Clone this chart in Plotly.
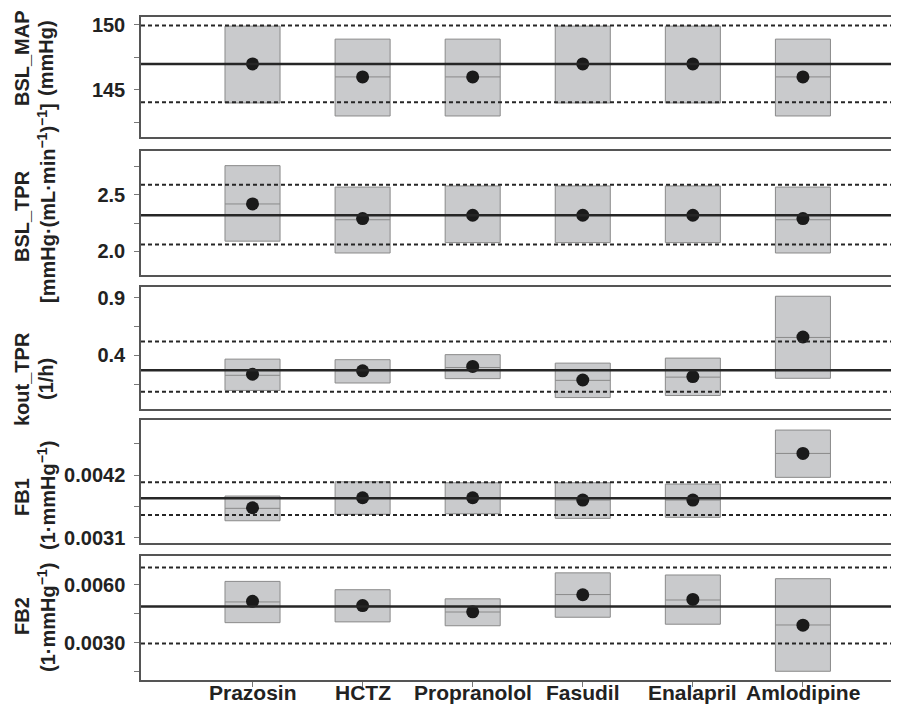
import plotly.graph_objects as go

categories = ["Prazosin", "HCTZ", "Propranolol", "Fasudil", "Enalapril", "Amlodipine"]

# Panel 1: BSL_MAP
map_ref = 147.0
map_band = [144.05, 149.95]
map_q1 = [144.0, 143.0, 143.0, 144.0, 144.0, 143.0]
map_med = [147.0, 146.0, 146.0, 147.0, 147.0, 146.0]
map_q3 = [149.9, 148.9, 148.9, 149.9, 149.9, 148.9]
map_pt = [147.0, 146.0, 146.0, 147.0, 147.0, 146.0]

# Panel 2: BSL_TPR
tpr_ref = 2.32
tpr_band = [2.06, 2.59]
tpr_q1 = [2.09, 1.985, 2.077, 2.077, 2.077, 1.985]
tpr_med = [2.42, 2.28, 2.32, 2.32, 2.32, 2.28]
tpr_q3 = [2.76, 2.57, 2.58, 2.58, 2.58, 2.57]
tpr_pt = [2.42, 2.29, 2.32, 2.32, 2.32, 2.29]

# Panel 3: kout_TPR
kout_ref = 0.270
kout_band = [0.082, 0.521]
kout_q1 = [0.094, 0.159, 0.197, 0.032, 0.050, 0.200]
kout_med = [0.226, 0.265, 0.294, 0.182, 0.210, 0.556]
kout_q3 = [0.367, 0.362, 0.406, 0.332, 0.376, 0.915]
kout_pt = [0.235, 0.265, 0.303, 0.185, 0.215, 0.560]

# Panel 4: FB1
fb1_ref = 0.003791
fb1_band = [0.003498, 0.004072]
fb1_q1 = [0.003398, 0.003511, 0.003521, 0.003440, 0.003458, 0.00416]
fb1_med = [0.003616, 0.003802, 0.003802, 0.003761, 0.003761, 0.00458]
fb1_q3 = [0.003832, 0.004082, 0.004065, 0.004065, 0.004042, 0.00499]
fb1_pt = [0.003626, 0.003802, 0.003802, 0.003761, 0.003761, 0.00458]

# Panel 5: FB2
fb2_ref = 0.00488
fb2_band = [0.00296, 0.00689]
fb2_q1 = [0.00404, 0.00408, 0.00388, 0.00432, 0.00396, 0.00153]
fb2_med = [0.00511, 0.00492, 0.00459, 0.00549, 0.00521, 0.00392]
fb2_q3 = [0.00617, 0.00574, 0.00527, 0.00661, 0.00650, 0.00631]
fb2_pt = [0.00514, 0.00492, 0.00460, 0.00548, 0.00524, 0.00391]

panels = [
    dict(ref=map_ref, band=map_band, q1=map_q1, med=map_med, q3=map_q3, pt=map_pt,
         rng=[141.35, 150.6], tick0=145, dtick=5, mdtick=2.5, fmt=".0f",
         dom=[0.8183, 1.0],
         t1=("BSL_MAP", 58), t2=("(mmHg)", 58)),
    dict(ref=tpr_ref, band=tpr_band, q1=tpr_q1, med=tpr_med, q3=tpr_q3, pt=tpr_pt,
         rng=[1.79, 2.89], tick0=2.0, dtick=0.5, mdtick=0.25, fmt=".1f",
         dom=[0.6109, 0.7979],
         t1=("BSL_TPR", 216), t2=("[mmHg·(mL·min<sup>−1</sup>)<sup>−1</sup>]", 203)),
    dict(ref=kout_ref, band=kout_band, q1=kout_q1, med=kout_med, q3=kout_q3, pt=kout_pt,
         rng=[-0.068, 1.0], tick0=0.4, dtick=0.5, mdtick=0.25, fmt=".1f",
         dom=[0.4087, 0.5935],
         t1=("kout_TPR", 379), t2=("(1/h)", 379)),
    dict(ref=fb1_ref, band=fb1_band, q1=fb1_q1, med=fb1_med, q3=fb1_q3, pt=fb1_pt,
         rng=[0.003007, 0.005165], tick0=0.0031, dtick=0.0011, mdtick=0.00055, fmt=".4f",
         dom=[0.2066, 0.392],
         t1=("FB1", 497), t2=("(1·mmHg<sup>−1</sup>)", 495)),
    dict(ref=fb2_ref, band=fb2_band, q1=fb2_q1, med=fb2_med, q3=fb2_q3, pt=fb2_pt,
         rng=[0.00108, 0.00748], tick0=0.0, dtick=0.003, mdtick=0.0015, fmt=".4f",
         dom=[0.0, 0.187],
         t1=("FB2", 616), t2=("(1·mmHg<sup>−1</sup>)", 617)),
]

FONT = "Liberation Sans, Arial, sans-serif"
OFF = 8  # page body margin
W, H = 883, 697
ML, MR, MT, MB = 133, 0, 9, 25
PW = W - ML - MR
PH = H - MT - MB
PLOT_LEFT = ML + OFF          # window px of plot left edge
PLOT_BOTTOM = OFF + MT + PH   # window px of plot bottom edge

fig = go.Figure()
layout = dict(
    width=W, height=H, margin=dict(l=ML, r=MR, t=MT, b=MB),
    paper_bgcolor="white", plot_bgcolor="white", showlegend=False,
    font=dict(family=FONT, color="#222", size=20),
)
shapes = []
annotations = []

for i, p in enumerate(panels):
    n = i + 1
    xa = "x" if n == 1 else f"x{n}"
    ya = "y" if n == 1 else f"y{n}"
    fig.add_trace(go.Box(
        x=categories, q1=p["q1"], median=p["med"], q3=p["q3"],
        lowerfence=p["q1"], upperfence=p["q3"],
        width=0.5, whiskerwidth=0, boxpoints=False,
        fillcolor="#c9cacc", line=dict(color="#8a8a8a", width=1),
        xaxis=xa, yaxis=ya, hoverinfo="skip",
    ))
    fig.add_trace(go.Scatter(
        x=categories, y=p["pt"], mode="markers",
        marker=dict(size=13, color="#1a1a1a"),
        xaxis=xa, yaxis=ya, hoverinfo="skip",
    ))
    xref_dom = f"{xa} domain"
    shapes.append(dict(type="line", xref=xref_dom, yref=ya, x0=0, x1=1,
                       y0=p["ref"], y1=p["ref"], line=dict(color="#262626", width=2.5), layer="above"))
    for b in p["band"]:
        shapes.append(dict(type="line", xref=xref_dom, yref=ya, x0=0, x1=1,
                           y0=b, y1=b, line=dict(color="#262626", width=2, dash="4px,3px"), layer="above"))
    bottom = (n == 5)
    layout[f"xaxis{'' if n == 1 else n}"] = dict(
        domain=[0, 1], anchor=ya, type="category", categoryorder="array",
        categoryarray=categories, range=[-1.013, 5.80],
        showline=True, mirror=True, linecolor="#555", linewidth=1.5,
        showgrid=False, zeroline=False,
        ticks="outside" if bottom else "", ticklen=5, tickcolor="#777",
        showticklabels=False,
        fixedrange=True,
    )
    layout[f"yaxis{'' if n == 1 else n}"] = dict(
        domain=p["dom"], anchor=xa, range=p["rng"],
        showline=True, mirror=False, linecolor="#555", linewidth=1.5,
        showgrid=False, zeroline=False,
        tickmode="linear", tick0=p["tick0"], dtick=p["dtick"], tickformat=p["fmt"],
        ticks="outside", ticklen=5, tickcolor="#777", ticklabelstandoff=5,
        minor=dict(ticks="outside", ticklen=5, tickcolor="#777", tickmode="linear",
                   tick0=p["tick0"], dtick=p["mdtick"], showgrid=False),
        tickfont=dict(family=FONT, size=20, color="#222", weight="bold"),
        fixedrange=True,
    )
    for (txt, ypx), xpx in [(p["t1"], 22), (p["t2"], 46)]:
        annotations.append(dict(
            text=txt, xref="paper", yref="paper",
            x=(xpx - PLOT_LEFT) / PW, y=(PLOT_BOTTOM - ypx) / PH,
            xanchor="center", yanchor="middle", textangle=-90, showarrow=False,
            font=dict(family=FONT, size=20, color="#222", weight="bold"),
        ))

# category labels under the bottom panel, placed on the bottom x axis
for c in categories:
    annotations.append(dict(
        text=c, xref="x5", yref="paper", x=c, y=(PLOT_BOTTOM - 692) / PH,
        xanchor="center", yanchor="middle", showarrow=False,
        font=dict(family=FONT, size=21, color="#222", weight="bold"),
    ))

layout["shapes"] = shapes
layout["annotations"] = annotations
fig.update_layout(**layout)
fig.write_html("out.html")
